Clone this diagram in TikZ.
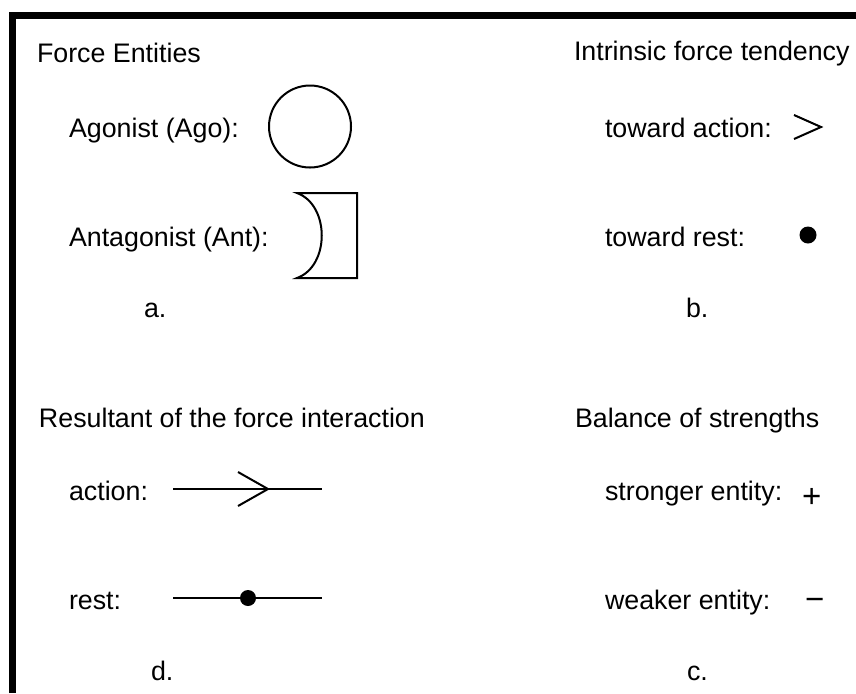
\documentclass[tikz,border=0pt]{standalone}
\usepackage{fontspec}
\setmainfont{Liberation Sans}
\begin{document}
\begin{tikzpicture}
  [x=0.5pt,y=-0.5pt,line width=1pt,
   every node/.style={inner sep=0pt,anchor=base west,font=\fontsize{13.4}{16}\selectfont},
   blob/.style={circle,fill=black,anchor=center,minimum size=8.5pt},
   sign/.style={font=\fontsize{16.5}{18}\selectfont}]
  \useasboundingbox (0,0) rectangle (856,693);
  \draw[line width=3.5pt] (12,693) -- (12,15.5) -- (856,15.5);

  % a. force entities
  \node (forceent) at (36,62) {Force Entities};
  \node (agolbl) at (68,137) {Agonist (Ago):};
  \node[draw,circle,anchor=center,minimum size=41pt] (ago) at (310,126.5) {};
  \node (antlbl) at (68,246) {Antagonist (Ant):};
  \draw (297,193) -- (357,193) -- (357,278) -- (297,278) .. controls (330,266) and (330,205) .. cycle;
  \node (tagA) at (143,317) {a.};

  % b. intrinsic force tendency
  \node (tendency) at (573,60) {Intrinsic force tendency};
  \node (towact) at (604,137) {toward action:};
  \draw (794,115) -- (821,127) -- (794,139);
  \node (towrest) at (604,246) {toward rest:};
  \node[blob] (restpt) at (808,235) {};
  \node (tagB) at (685,317) {b.};

  % d. resultant
  \node (result) at (38,427) {Resultant of the force interaction};
  \node (actlbl) at (68,500) {action:};
  \coordinate (actA) at (173,489);
  \coordinate (actB) at (322,489);
  \draw (actA) -- (actB);
  \draw (238,472) -- (268,489) -- (238,506);
  \node (restlbl) at (68,609) {rest:};
  \coordinate (restA) at (173,598);
  \coordinate (restB) at (322,598);
  \draw (restA) -- (restB);
  \node[blob,minimum size=8pt] (restdot) at (248,598) {};
  \node (tagD) at (150,680) {d.};

  % c. balance of strengths
  \node (balance) at (574,427) {Balance of strengths};
  \node (stronger) at (604,500) {stronger entity:};
  \node[sign] (plus) at (801,507) {+};
  \node (weaker) at (604,609) {weaker entity:};
  \node[sign] (minus) at (804,610) {−};
  \node (tagC) at (686,680) {c.};

\end{tikzpicture}
\end{document}
